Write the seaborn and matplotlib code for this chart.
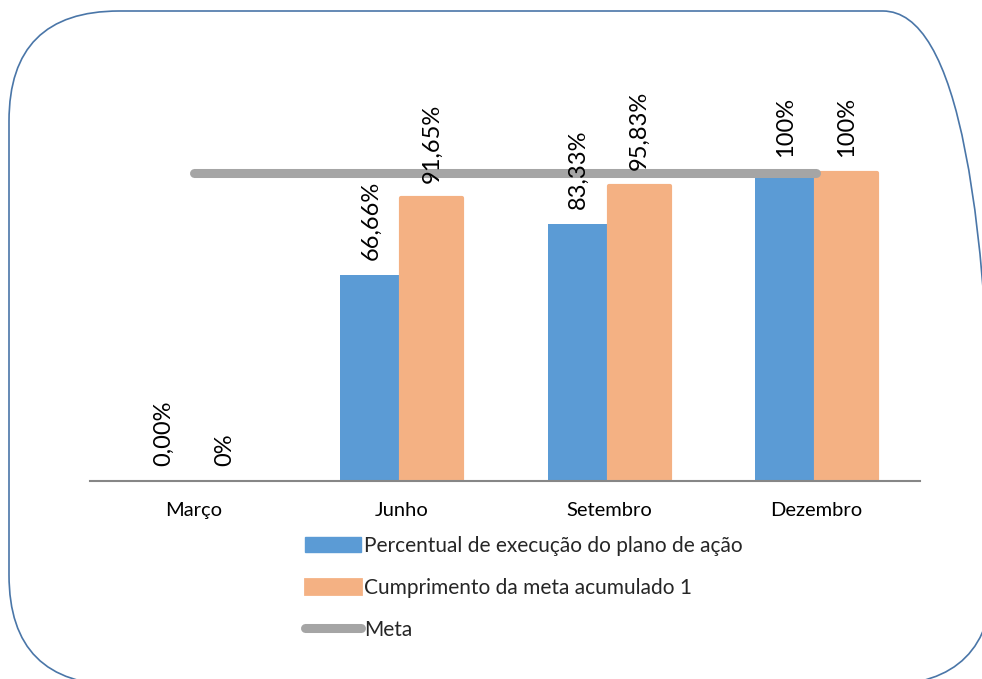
import matplotlib
matplotlib.use("Agg")
import matplotlib.pyplot as plt
import seaborn as sns
import pandas as pd
import numpy as np
from matplotlib.patches import Patch, FancyBboxPatch
from matplotlib.lines import Line2D

meses = ["Março", "Junho", "Setembro", "Dezembro"]
series = ["Percentual de execução do plano de ação", "Cumprimento da meta acumulado 1"]
execucao = [0.0, 0.6666, 0.8333, 1.0]
cumprimento = [0.0, 0.9165, 0.9583, 1.0]
meta = [1.0, 1.0, 1.0, 1.0]
labels_execucao = ["0,00%", "66,66%", "83,33%", "100%"]
labels_cumprimento = ["0%", "91,65%", "95,83%", "100%"]
meta_label = "Meta"

BLUE = "#5b9bd5"
ORANGE = "#f4b183"
GRAY = "#a5a5a5"

df = pd.DataFrame({
    "mes": meses * 2,
    "valor": execucao + cumprimento,
    "serie": [series[0]] * len(meses) + [series[1]] * len(meses),
})

sns.set_theme(style="white")
plt.rcParams["font.family"] = ["Lato", "DejaVu Sans"]

fig = plt.figure(figsize=(9.82, 6.79), dpi=100)
ax = fig.add_axes([90 / 982, 198 / 679, 830 / 982, 370 / 679])

sns.barplot(data=df, x="mes", y="valor", hue="serie", order=meses, hue_order=series,
            palette=[BLUE, ORANGE], width=0.59, saturation=1, legend=False, ax=ax,
            zorder=2)

# orange bars have a same-colour outline
for bar in ax.containers[1]:
    if bar.get_height() > 0:
        bar.set_edgecolor(ORANGE)
        bar.set_linewidth(3)
        bar.set_joinstyle("round")
    else:
        bar.set_linewidth(0)
for bar in ax.containers[0]:
    bar.set_linewidth(0)

ax.plot(np.arange(len(meses)), meta, color=GRAY, lw=6.5, solid_capstyle="round", zorder=3)

for cont, labs in zip(ax.containers, [labels_execucao, labels_cumprimento]):
    ax.bar_label(cont, labels=labs, rotation=90, padding=11, fontsize=17,
                 color="black", zorder=5)

ax.set_xlim(-0.5, len(meses) - 0.5)
ax.set_ylim(0, 1.2)
ax.set_xlabel("")
ax.set_ylabel("")
ax.set_yticks([])
for s in ["top", "left", "right"]:
    ax.spines[s].set_visible(False)
ax.spines["bottom"].set_color("#868686")
ax.spines["bottom"].set_linewidth(1.5)
ax.tick_params(axis="x", length=0, pad=15, labelsize=14.5, labelcolor="black")

handles = [
    Patch(facecolor=BLUE, edgecolor=BLUE),
    Patch(facecolor=ORANGE, edgecolor=ORANGE, linewidth=2, joinstyle="round"),
    Line2D([0], [0], color=GRAY, lw=6.5, solid_capstyle="round"),
]
fig.legend(handles, series + [meta_label], loc="upper left",
           bbox_to_anchor=(305 / 982, 1 - 536 / 679), frameon=False, fontsize=15,
           handlelength=2.7, handleheight=0.7, handletextpad=0.15, labelspacing=1.05,
           borderpad=0, borderaxespad=0)

border = FancyBboxPatch((0.09, -0.06), 9.84, 6.74,
                        boxstyle="round,pad=0,rounding_size=1.1",
                        transform=fig.dpi_scale_trans, fill=False,
                        edgecolor="#4a76a8", linewidth=1.2, clip_on=False)
fig.add_artist(border)

fig.savefig("out.png", dpi=100)
